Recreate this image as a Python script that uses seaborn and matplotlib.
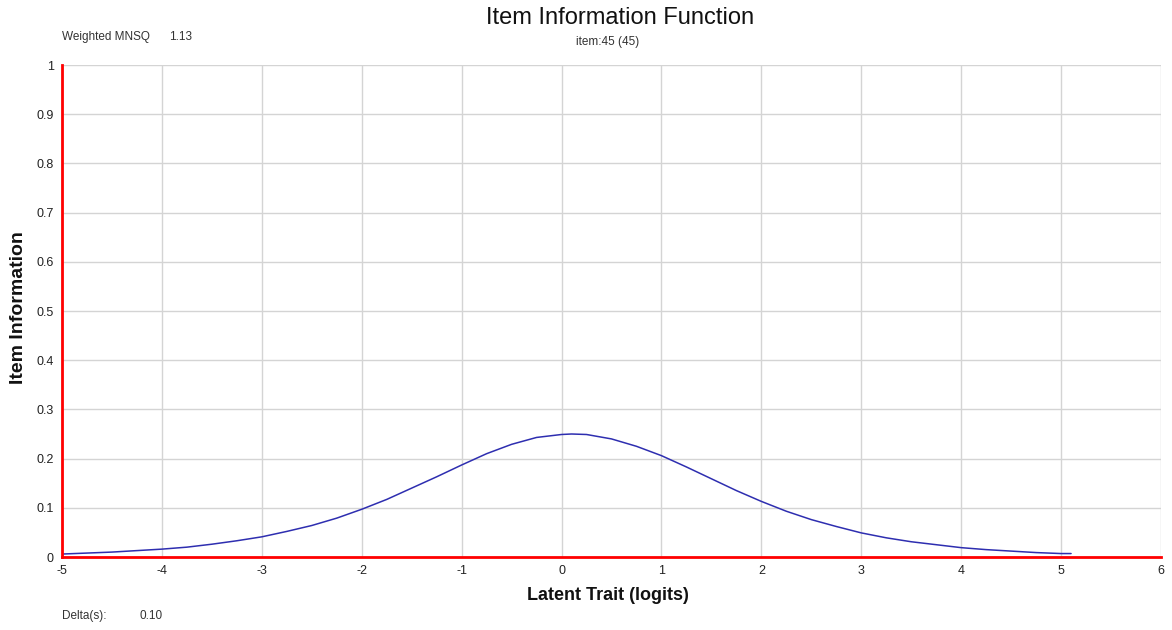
import matplotlib
matplotlib.use("Agg")
import matplotlib.pyplot as plt
import seaborn as sns
import pandas as pd

theta = [-5.0, -4.75, -4.5, -4.25, -4.0, -3.75, -3.5, -3.25, -3.0, -2.75, -2.5, -2.25,
         -2.0, -1.75, -1.5, -1.25, -1.0, -0.75, -0.5, -0.25, 0.0, 0.1, 0.25, 0.5, 0.75,
         1.0, 1.25, 1.5, 1.75, 2.0, 2.25, 2.5, 2.75, 3.0, 3.25, 3.5, 3.75, 4.0, 4.25,
         4.5, 4.75, 5.0, 5.1]
information = [0.006, 0.008, 0.010, 0.013, 0.016, 0.020, 0.026, 0.033, 0.041, 0.052,
               0.064, 0.079, 0.097, 0.117, 0.140, 0.163, 0.187, 0.210, 0.229, 0.243,
               0.249, 0.250, 0.249, 0.240, 0.225, 0.206, 0.183, 0.159, 0.135, 0.113,
               0.093, 0.076, 0.062, 0.049, 0.039, 0.031, 0.025, 0.019, 0.015, 0.012,
               0.009, 0.007, 0.007]
x_ticks = [-5, -4, -3, -2, -1, 0, 1, 2, 3, 4, 5, 6]
y_ticks = [0, 0.1, 0.2, 0.3, 0.4, 0.5, 0.6, 0.7, 0.8, 0.9, 1]
y_tick_labels = ["0", "0.1", "0.2", "0.3", "0.4", "0.5", "0.6", "0.7", "0.8", "0.9", "1"]

title = "Item Information Function"
subtitle = "item:45 (45)"
fit_label = "Weighted MNSQ"
fit_value = "1.13"
delta_label = "Delta(s):"
delta_value = "0.10"
x_label = "Latent Trait (logits)"
y_label = "Item Information"

sns.set_style("white")
plt.rcParams['font.family'] = ['Liberation Sans', 'DejaVu Sans']
narrow = ['Liberation Sans Narrow', 'Liberation Sans', 'DejaVu Sans']

df = pd.DataFrame({"theta": theta, "info": information})

fig = plt.figure(figsize=(11.72, 6.3), dpi=100)
ax = fig.add_axes([62 / 1172, 1 - 557 / 630, (1161 - 62) / 1172, (557 - 65) / 630])

sns.lineplot(data=df, x="theta", y="info", ax=ax, color="#2e2eb0", linewidth=1.1)

ax.set_xlim(-5, 6)
ax.set_ylim(0, 1)
ax.set_xticks(x_ticks)
ax.set_xticklabels([str(t) for t in x_ticks], family=narrow, fontsize=9)
ax.set_yticks(y_ticks)
ax.set_yticklabels(y_tick_labels, family=narrow, fontsize=9)
ax.grid(True, color="#d4d4d4", linewidth=1)
ax.set_axisbelow(True)

for s in ["top", "right"]:
    ax.spines[s].set_visible(False)
for s in ["left", "bottom"]:
    ax.spines[s].set_color("red")
    ax.spines[s].set_linewidth(2)
    ax.spines[s].set_zorder(5)
ax.tick_params(axis="both", colors="red", length=4, width=2, direction="out",
               labelcolor="#222222", pad=2)

ax.set_xlabel(x_label, fontsize=13, fontweight="bold", color="#111111")
ax.set_ylabel(y_label, fontsize=14, fontweight="bold", color="#111111")
ax.xaxis.set_label_coords((608 - 62) / (1161 - 62), -(587 - 557) / (557 - 65))
ax.yaxis.set_label_coords(-(62 - 27) / (1161 - 62), (557 - 308) / (557 - 65))

fig.text(620 / 1172, 1 - 18 / 630, title, ha="center", va="center",
         fontsize=17, family=narrow, color="#111111")
fig.text(608 / 1172, 1 - 42 / 630, subtitle, ha="center", va="center",
         fontsize=8.5, family=narrow, color="#333333")
fig.text(62 / 1172, 1 - 37 / 630, fit_label, ha="left", va="center",
         fontsize=8.5, family=narrow, color="#333333")
fig.text(169 / 1172, 1 - 37 / 630, fit_value, ha="left", va="center",
         fontsize=8.5, family=narrow, color="#333333")
fig.text(62 / 1172, 1 - 616 / 630, delta_label, ha="left", va="center",
         fontsize=8.5, family=narrow, color="#333333")
fig.text(139 / 1172, 1 - 616 / 630, delta_value, ha="left", va="center",
         fontsize=8.5, family=narrow, color="#333333")

fig.savefig("out.png", dpi=100, facecolor="white")
